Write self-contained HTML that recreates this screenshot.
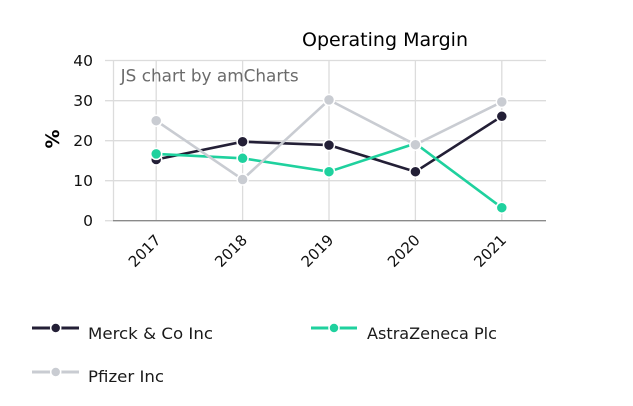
<!DOCTYPE html>
<html><head><meta charset="utf-8"><style>
html,body{margin:0;padding:0;background:#fff;}
svg{display:block;font-family:"DejaVu Sans","Liberation Sans",sans-serif;}
</style></head><body>
<svg width="633" height="406" viewBox="0 0 633 406" xmlns="http://www.w3.org/2000/svg">
<rect width="633" height="406" fill="#fff"/>
<text x="385" y="46" font-size="19" text-anchor="middle" fill="#000" textLength="166" lengthAdjust="spacingAndGlyphs">Operating Margin</text>
<!-- grid -->
<g stroke="#dcdcdc" stroke-width="1.3" fill="none">
<line x1="105" y1="60.5" x2="546" y2="60.5"/>
<line x1="105" y1="100.7" x2="546" y2="100.7"/>
<line x1="105" y1="140.7" x2="546" y2="140.7"/>
<line x1="105" y1="180.7" x2="546" y2="180.7"/>
<line x1="113.5" y1="60" x2="113.5" y2="220.7"/>
<line x1="156.2" y1="60" x2="156.2" y2="220.7"/>
<line x1="242.6" y1="60" x2="242.6" y2="220.7"/>
<line x1="329" y1="60" x2="329" y2="220.7"/>
<line x1="415.4" y1="60" x2="415.4" y2="220.7"/>
<line x1="501.8" y1="60" x2="501.8" y2="220.7"/>
</g>
<line x1="105" y1="220.7" x2="113" y2="220.7" stroke="#dcdcdc" stroke-width="1.3"/>
<line x1="113" y1="220.7" x2="546" y2="220.7" stroke="#8a8a8a" stroke-width="1.3"/>
<text x="120.7" y="81.7" font-size="16.8" fill="#6b6b6b" textLength="178" lengthAdjust="spacingAndGlyphs">JS chart by amCharts</text>
<!-- y labels -->
<g font-size="15.5" fill="#111" text-anchor="end">
<text x="93" y="66">40</text>
<text x="93" y="106">30</text>
<text x="93" y="146">20</text>
<text x="93" y="186">10</text>
<text x="93" y="226">0</text>
</g>
<text transform="translate(59,139) rotate(-90)" font-size="19" font-weight="bold" text-anchor="middle" fill="#000">%</text>
<!-- x labels -->
<g font-size="15" fill="#111" text-anchor="end">
<text transform="translate(161.7,241) rotate(-45)">2017</text>
<text transform="translate(248.1,241) rotate(-45)">2018</text>
<text transform="translate(334.5,241) rotate(-45)">2019</text>
<text transform="translate(420.9,241) rotate(-45)">2020</text>
<text transform="translate(507.3,241) rotate(-45)">2021</text>
</g>
<!-- Merck -->
<polyline points="156.2,159.5 242.6,141.7 329,145.1 415.4,171.7 501.8,116.3" fill="none" stroke="#231f36" stroke-width="2.6"/>
<g fill="#231f36" stroke="#fff" stroke-width="1.5">
<circle cx="156.2" cy="159.5" r="5.5"/><circle cx="242.6" cy="141.7" r="5.5"/><circle cx="329" cy="145.1" r="5.5"/><circle cx="415.4" cy="171.7" r="5.5"/><circle cx="501.8" cy="116.3" r="5.5"/>
</g>
<!-- AstraZeneca -->
<polyline points="156.2,153.9 242.6,158.3 329,171.7 415.4,143.5 501.8,207.7" fill="none" stroke="#1fd19e" stroke-width="2.6"/>
<g fill="#1fd19e" stroke="#fff" stroke-width="1.5">
<circle cx="156.2" cy="153.9" r="5.5"/><circle cx="242.6" cy="158.3" r="5.5"/><circle cx="329" cy="171.7" r="5.5"/><circle cx="415.4" cy="143.5" r="5.5"/><circle cx="501.8" cy="207.7" r="5.5"/>
</g>
<!-- Pfizer -->
<polyline points="156.2,120.7 242.6,179.5 329,99.9 415.4,144.7 501.8,101.9" fill="none" stroke="#c9ccd2" stroke-width="2.6"/>
<g fill="#c9ccd2" stroke="#fff" stroke-width="1.5">
<circle cx="156.2" cy="120.7" r="5.5"/><circle cx="242.6" cy="179.5" r="5.5"/><circle cx="329" cy="99.9" r="5.5"/><circle cx="415.4" cy="144.7" r="5.5"/><circle cx="501.8" cy="101.9" r="5.5"/>
</g>
<!-- legend -->
<g stroke-width="3">
<line x1="32" y1="328" x2="79" y2="328" stroke="#231f36"/>
<circle cx="55.7" cy="328" r="5" fill="#231f36" stroke="#fff" stroke-width="1.5"/>
<line x1="311" y1="328" x2="357" y2="328" stroke="#1fd19e"/>
<circle cx="334" cy="328" r="5" fill="#1fd19e" stroke="#fff" stroke-width="1.5"/>
<line x1="32" y1="372" x2="79" y2="372" stroke="#c9ccd2"/>
<circle cx="55.7" cy="372" r="5" fill="#c9ccd2" stroke="#fff" stroke-width="1.5"/>
</g>
<g font-size="16" fill="#1a1a1a">
<text x="88" y="339" textLength="125" lengthAdjust="spacingAndGlyphs">Merck &amp; Co Inc</text>
<text x="367" y="339" textLength="130" lengthAdjust="spacingAndGlyphs">AstraZeneca Plc</text>
<text x="88" y="382" textLength="76" lengthAdjust="spacingAndGlyphs">Pfizer Inc</text>
</g>
</svg>
</body></html>
